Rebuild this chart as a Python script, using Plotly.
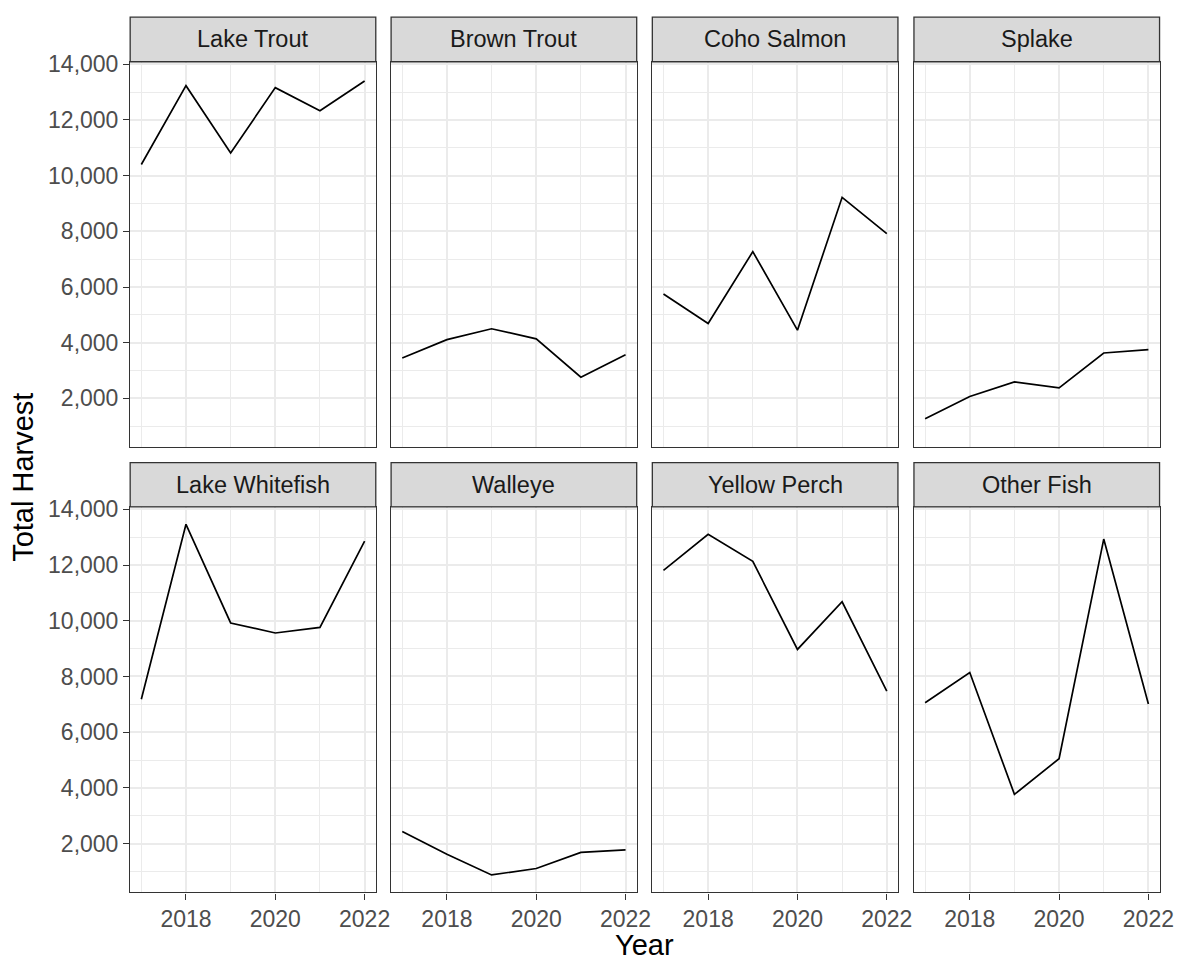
import plotly.graph_objects as go

# Annual harvest by species
years = [2017, 2018, 2019, 2020, 2021, 2022]
species = ["Lake Trout", "Brown Trout", "Coho Salmon", "Splake",
           "Lake Whitefish", "Walleye", "Yellow Perch", "Other Fish"]

lake_trout = [10400, 13230, 10810, 13160, 12330, 13400]
brown_trout = [3450, 4110, 4500, 4140, 2760, 3570]
coho_salmon = [5750, 4690, 7270, 4450, 9220, 7920]
splake = [1270, 2070, 2590, 2380, 3630, 3750]
lake_whitefish = [7180, 13460, 9920, 9560, 9760, 12860]
walleye = [2440, 1620, 880, 1110, 1690, 1780]
yellow_perch = [11810, 13100, 12130, 8970, 10680, 7470]
other_fish = [7060, 8140, 3770, 5050, 12930, 7010]

series = [lake_trout, brown_trout, coho_salmon, splake,
          lake_whitefish, walleye, yellow_perch, other_fish]

y_tickvals = [2000, 4000, 6000, 8000, 10000, 12000, 14000]
y_ticktext = ["2,000", "4,000", "6,000", "8,000", "10,000", "12,000", "14,000"]
y_minor = [1000, 3000, 5000, 7000, 9000, 11000, 13000]
x_tickvals = [2018, 2020, 2022]
x_ticktext = ["2018", "2020", "2022"]
x_minor = [2017, 2019, 2021]

W, H = 1204, 962
FONT = "Liberation Sans, Arial, sans-serif"
BORDER = "#333333"
GRID = "#EBEBEB"

# panel layout in pixels
col_left = [131.7, 395.7, 660.0, 924.7]
panel_w = 248.5
rows = [  # (strip_top, panel_top, panel_bottom)
    (7.3, 52.3, 441.7),
    (457.3, 502.0, 891.7),
]

# shared scales with 5% padding
all_vals = [v for s in series for v in s]
lo, hi = min(all_vals), max(all_vals)
pad = 0.05 * (hi - lo)
y_range = [lo - pad, hi + pad]
x_pad = 0.05 * (max(years) - min(years))
x_range = [min(years) - x_pad, max(years) + x_pad]

fig = go.Figure()
shapes, annotations = [], []

for i, (name, vals) in enumerate(zip(species, series)):
    r, c = divmod(i, 4)
    strip_top, p_top, p_bot = rows[r]
    x0 = col_left[c]
    x1 = x0 + panel_w
    n = i + 1
    xa = "x" if n == 1 else f"x{n}"
    ya = "y" if n == 1 else f"y{n}"
    fig.add_trace(go.Scatter(
        x=years, y=vals, mode="lines", xaxis=xa, yaxis=ya,
        line=dict(color="black", width=1.7), showlegend=False,
        hoverinfo="x+y",
    ))
    show_x = r == 1
    show_y = c == 0
    fig.layout[f"xaxis{'' if n == 1 else n}"] = dict(
        domain=[x0 / W, x1 / W], anchor=ya, range=x_range,
        tickvals=x_tickvals, ticktext=x_ticktext,
        showticklabels=show_x, ticks="outside" if show_x else "",
        ticklen=6, tickwidth=1.3, tickcolor=BORDER,
        tickfont=dict(family=FONT, size=23, color="#4D4D4D"),
        showgrid=True, gridcolor=GRID, gridwidth=2,
        minor=dict(tickvals=x_minor, showgrid=True, gridcolor=GRID,
                   gridwidth=1, ticks=""),
        showline=True, mirror=True, linecolor=BORDER, linewidth=1.3,
        zeroline=False, fixedrange=True,
    )
    fig.layout[f"yaxis{'' if n == 1 else n}"] = dict(
        domain=[1 - p_bot / H, 1 - p_top / H], anchor=xa, range=y_range,
        tickvals=y_tickvals, ticktext=y_ticktext,
        showticklabels=show_y, ticks="outside" if show_y else "",
        ticklen=6, tickwidth=1.3, tickcolor=BORDER,
        tickfont=dict(family=FONT, size=23, color="#4D4D4D"),
        showgrid=True, gridcolor=GRID, gridwidth=2,
        minor=dict(tickvals=y_minor, showgrid=True, gridcolor=GRID,
                   gridwidth=1, ticks=""),
        showline=True, mirror=True, linecolor=BORDER, linewidth=1.3,
        zeroline=False, fixedrange=True,
    )
    # facet strip
    shapes.append(dict(
        type="rect", xref="paper", yref="paper",
        x0=x0 / W, x1=x1 / W, y0=1 - p_top / H, y1=1 - strip_top / H,
        fillcolor="#D9D9D9", line=dict(color=BORDER, width=1.3), layer="above",
    ))
    annotations.append(dict(
        text=name, xref="paper", yref="paper",
        x=(x0 + x1) / 2 / W, y=1 - (strip_top + p_top) / 2 / H,
        xanchor="center", yanchor="middle", showarrow=False,
        font=dict(family=FONT, size=23.5, color="#1A1A1A"),
    ))

annotations.append(dict(
    text="Year", xref="paper", yref="paper",
    x=(col_left[0] + col_left[3] + panel_w) / 2 / W, y=1 - 945 / H,
    xanchor="center", yanchor="middle", showarrow=False,
    font=dict(family=FONT, size=29, color="black"),
))
annotations.append(dict(
    text="Total Harvest", xref="paper", yref="paper",
    x=23 / W, y=1 - (rows[0][1] + rows[1][2]) / 2 / H,
    xanchor="center", yanchor="middle", showarrow=False, textangle=-90,
    font=dict(family=FONT, size=29, color="black"),
))

fig.update_layout(
    width=W, height=H, autosize=False,
    margin=dict(l=0, r=0, t=0, b=0),
    paper_bgcolor="white", plot_bgcolor="white",
    shapes=shapes, annotations=annotations,
)

fig.write_html("out.html")
